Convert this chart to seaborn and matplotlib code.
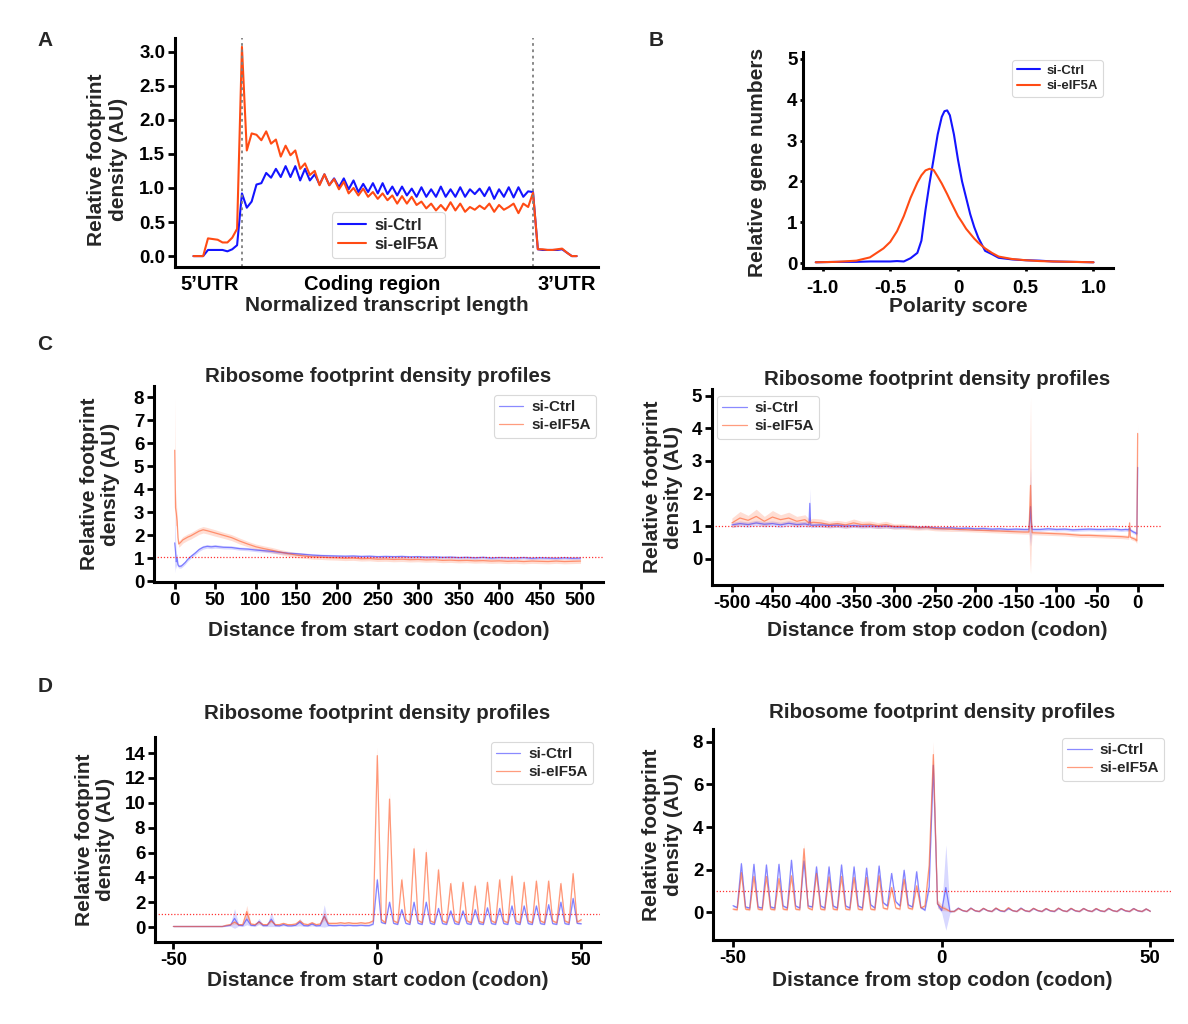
import numpy as np
import pandas as pd
import seaborn as sns
import matplotlib
matplotlib.use("Agg")
import matplotlib.pyplot as plt

sns.set_theme(style="ticks")
plt.rcParams['font.family'] = ['Liberation Sans', 'DejaVu Sans']
plt.rcParams['font.weight'] = 'bold'
plt.rcParams['axes.labelweight'] = 'bold'
plt.rcParams['axes.titleweight'] = 'bold'
plt.rcParams['axes.unicode_minus'] = False

# ---------------- DATA ----------------
series_names = ["si-Ctrl", "si-eIF5A"]

# Panel A: metagene (5'UTR bins, CDS bins, 3'UTR bins)
a_ctrl_utr5 = [0, 0, 0, 0.09, 0.09, 0.09, 0.09, 0.07, 0.10, 0.16]
a_eif_utr5 = [0, 0, 0, 0.26, 0.25, 0.24, 0.20, 0.20, 0.27, 0.40]
a_ctrl_cds = [0.92, 0.71, 0.80, 1.05, 1.07, 1.22, 1.15, 1.28, 1.16, 1.32,
              1.16, 1.32, 1.11, 1.28, 1.11, 1.20, 1.05, 1.20, 1.04, 1.14,
              1.01, 1.14, 0.98, 1.11, 0.94, 1.06, 0.94, 1.07, 0.92, 1.07,
              0.91, 1.02, 0.89, 1.02, 0.89, 0.99, 0.87, 1.01, 0.87, 0.98,
              0.87, 1.02, 0.87, 0.98, 0.87, 1.01, 0.87, 0.98, 0.91, 0.99,
              0.88, 1.01, 0.84, 0.98, 0.87, 1.01, 0.86, 1.01, 0.87, 0.95,
              0.94]
a_eif_cds = [3.07, 1.55, 1.80, 1.78, 1.70, 1.83, 1.65, 1.71, 1.46, 1.62,
             1.48, 1.55, 1.28, 1.36, 1.19, 1.25, 1.04, 1.20, 1.04, 1.13,
             0.98, 1.09, 0.92, 1.00, 0.89, 0.99, 0.87, 0.94, 0.84, 0.92,
             0.82, 0.89, 0.77, 0.88, 0.77, 0.87, 0.75, 0.80, 0.70, 0.77,
             0.67, 0.75, 0.67, 0.79, 0.67, 0.77, 0.65, 0.72, 0.68, 0.74,
             0.69, 0.77, 0.65, 0.75, 0.68, 0.72, 0.77, 0.63, 0.77, 0.72,
             0.93]
a_ctrl_utr3 = [0.10, 0.09, 0.09, 0.09, 0.09, 0.10, 0.05, 0.0, 0.0]
a_eif_utr3 = [0.10, 0.10, 0.09, 0.09, 0.10, 0.11, 0.05, 0.0, 0.0]
a_region_labels = ["5\u2019UTR", "Coding region", "3\u2019UTR"]

# Panel B: polarity score density
b_score = [-1.05, -0.9, -0.75, -0.65, -0.55, -0.5, -0.45, -0.4, -0.35, -0.3,
           -0.27, -0.24, -0.21, -0.18, -0.15, -0.12, -0.10, -0.08, -0.06, -0.03, 0.0,
           0.03, 0.06, 0.09, 0.12, 0.15, 0.2, 0.25, 0.3, 0.4, 0.5,
           0.6, 0.7, 0.85, 1.0]
b_ctrl = [0.02, 0.03, 0.03, 0.04, 0.04, 0.04, 0.05, 0.04, 0.12, 0.25,
          0.55, 1.30, 1.96, 2.55, 3.15, 3.58, 3.72, 3.74, 3.62, 3.15, 2.53,
          2.00, 1.60, 1.20, 0.88, 0.62, 0.30, 0.22, 0.13, 0.09, 0.07,
          0.06, 0.04, 0.03, 0.02]
b_eif = [0.02, 0.03, 0.06, 0.14, 0.36, 0.52, 0.78, 1.15, 1.60, 1.97,
         2.15, 2.27, 2.31, 2.28, 2.12, 1.95, 1.82, 1.69, 1.55, 1.35, 1.15,
         1.00, 0.84, 0.72, 0.60, 0.50, 0.36, 0.25, 0.16, 0.10, 0.07,
         0.05, 0.04, 0.03, 0.02]

# Panel C left: distance from start codon
c_start_pos = [0, 1, 2, 3, 4, 5, 6, 8, 10, 13, 16, 20, 25, 30, 35, 40, 45, 50,
               60, 70, 80, 90, 100, 110, 120, 130, 140, 150, 160, 170, 180, 190,
               200, 210, 220, 230, 240, 250, 260, 270, 280, 290, 300, 310, 320,
               330, 340, 350, 360, 370, 380, 390, 400, 410, 420, 430, 440, 450,
               460, 470, 480, 490, 500]
c_start_ctrl = [1.67, 1.30, 0.85, 1.00, 0.72, 0.66, 0.65, 0.66, 0.72, 0.82, 0.95, 1.08, 1.22, 1.38, 1.48, 1.52, 1.50, 1.52,
                1.48, 1.47, 1.42, 1.40, 1.36, 1.33, 1.30, 1.26, 1.22, 1.20, 1.17, 1.14, 1.12, 1.11,
                1.10, 1.09, 1.10, 1.08, 1.09, 1.07, 1.08, 1.07, 1.08, 1.06, 1.07, 1.05, 1.06,
                1.04, 1.05, 1.03, 1.04, 1.02, 1.04, 1.01, 1.03, 1.02, 1.01, 1.03, 1.00, 1.02,
                1.01, 1.00, 1.02, 1.00, 1.01]
c_start_eif = [5.70, 3.20, 2.95, 2.60, 1.90, 1.62, 1.65, 1.72, 1.80, 1.86, 1.92, 1.98, 2.08, 2.18, 2.24, 2.20, 2.15, 2.10,
               2.00, 1.90, 1.75, 1.62, 1.50, 1.42, 1.35, 1.27, 1.20, 1.14, 1.10, 1.06, 1.05, 1.03,
               1.02, 1.00, 1.01, 0.98, 0.99, 0.96, 0.97, 0.95, 0.96, 0.94, 0.95, 0.93, 0.94,
               0.91, 0.92, 0.90, 0.91, 0.89, 0.90, 0.88, 0.89, 0.87, 0.88, 0.86, 0.88, 0.87,
               0.86, 0.88, 0.86, 0.87, 0.88]
c_start_ctrl_err = [1.30, 0.60, 0.30, 0.20, 0.10, 0.08, 0.08, 0.08, 0.08, 0.08, 0.08, 0.08, 0.08, 0.08, 0.08, 0.08, 0.08, 0.08,
                    0.07, 0.07, 0.07, 0.07, 0.07, 0.07, 0.07, 0.07, 0.06, 0.06, 0.06, 0.06, 0.06, 0.06,
                    0.06, 0.06, 0.06, 0.06, 0.06, 0.06, 0.06, 0.06, 0.06, 0.06, 0.06, 0.06, 0.06,
                    0.06, 0.06, 0.06, 0.06, 0.06, 0.06, 0.06, 0.06, 0.06, 0.06, 0.06, 0.06, 0.06,
                    0.06, 0.06, 0.06, 0.06, 0.06]
c_start_eif_err = [2.30, 0.80, 0.50, 0.30, 0.15, 0.14, 0.14, 0.14, 0.14, 0.14, 0.14, 0.14, 0.14, 0.14, 0.14, 0.14, 0.14, 0.14,
                   0.13, 0.13, 0.13, 0.12, 0.12, 0.12, 0.12, 0.11, 0.11, 0.11, 0.10, 0.10, 0.10, 0.10,
                   0.10, 0.10, 0.10, 0.10, 0.10, 0.10, 0.10, 0.10, 0.10, 0.10, 0.10, 0.10, 0.10,
                   0.10, 0.10, 0.10, 0.10, 0.10, 0.10, 0.10, 0.10, 0.10, 0.10, 0.10, 0.10, 0.10,
                   0.10, 0.10, 0.10, 0.10, 0.10]

# Panel C right: distance from stop codon
c_stop_pos = [-500, -490, -480, -470, -460, -450, -440, -430, -420, -410, -405, -404, -403, -400,
              -390, -380, -370, -360, -350, -340, -330, -320, -310, -300, -290, -280, -270,
              -260, -250, -240, -230, -220, -210, -200, -190, -180, -170, -160, -150, -140,
              -134, -133, -132, -131, -130, -120, -110, -100, -90, -80, -70, -60, -50, -40,
              -30, -20, -15, -11, -10, -9, -5, -3, -2, -1, 0]
c_stop_ctrl = [1.04, 1.08, 1.05, 1.10, 1.06, 1.08, 1.04, 1.09, 1.05, 1.07, 1.04, 1.70, 1.03, 1.03,
               1.04, 1.02, 1.03, 1.00, 1.02, 1.00, 1.01, 0.99, 1.00, 0.98, 0.97, 0.98, 0.96,
               0.97, 0.95, 0.94, 0.95, 0.93, 0.94, 0.92, 0.93, 0.91, 0.92, 0.90, 0.91, 0.90,
               0.90, 1.20, 1.60, 1.10, 0.90, 0.90, 0.92, 0.90, 0.91, 0.89, 0.90, 0.91, 0.90, 0.90,
               0.91, 0.89, 0.90, 0.89, 0.95, 0.88, 0.82, 0.80, 0.78, 0.76, 2.80]
c_stop_eif = [1.10, 1.25, 1.18, 1.30, 1.15, 1.28, 1.20, 1.25, 1.15, 1.20, 1.10, 1.15, 1.10, 1.12,
              1.10, 1.05, 1.08, 1.04, 1.10, 1.05, 1.06, 1.02, 1.05, 0.99, 1.00, 0.97, 0.95,
              0.96, 0.93, 0.92, 0.91, 0.90, 0.89, 0.88, 0.87, 0.86, 0.85, 0.84, 0.83, 0.82,
              0.82, 1.50, 2.25, 1.20, 0.80, 0.79, 0.78, 0.77, 0.76, 0.74, 0.72, 0.72, 0.71, 0.70,
              0.69, 0.68, 0.67, 0.66, 1.10, 0.66, 0.62, 0.60, 0.57, 0.55, 3.84]
c_stop_ctrl_err = [0.08, 0.08, 0.08, 0.08, 0.08, 0.08, 0.08, 0.08, 0.08, 0.08, 0.08, 0.45, 0.08, 0.07,
                   0.07, 0.07, 0.07, 0.06, 0.06, 0.06, 0.06, 0.06, 0.06, 0.06, 0.05, 0.05, 0.05,
                   0.05, 0.05, 0.05, 0.05, 0.05, 0.05, 0.05, 0.05, 0.05, 0.05, 0.05, 0.05, 0.05,
                   0.05, 0.60, 1.20, 0.40, 0.05, 0.05, 0.05, 0.05, 0.05, 0.05, 0.05, 0.05, 0.05, 0.05,
                   0.05, 0.05, 0.05, 0.05, 0.08, 0.05, 0.05, 0.05, 0.06, 0.06, 0.60]
c_stop_eif_err = [0.15, 0.20, 0.15, 0.22, 0.15, 0.20, 0.15, 0.18, 0.15, 0.15, 0.12, 0.15, 0.12, 0.12,
                  0.12, 0.10, 0.10, 0.10, 0.12, 0.10, 0.10, 0.09, 0.10, 0.08, 0.08, 0.08, 0.07,
                  0.07, 0.07, 0.07, 0.07, 0.06, 0.06, 0.06, 0.06, 0.06, 0.06, 0.06, 0.06, 0.06,
                  0.06, 1.50, 2.70, 0.80, 0.06, 0.06, 0.06, 0.06, 0.06, 0.06, 0.06, 0.06, 0.06, 0.06,
                  0.06, 0.06, 0.06, 0.06, 0.15, 0.06, 0.06, 0.06, 0.07, 0.07, 0.30]

# Panel D left: codon-resolution around start codon (-50..50)
d_start_pos = list(range(-50, 51))
d_start_ctrl = [0.05, 0.05, 0.05, 0.05, 0.05, 0.05, 0.05, 0.05, 0.05, 0.05,
                0.05, 0.05, 0.05, 0.10, 0.15, 0.70, 0.15, 0.12, 0.64, 0.15,
                0.12, 0.45, 0.12, 0.12, 0.64, 0.12, 0.10, 0.20, 0.10, 0.10,
                0.15, 0.40, 0.12, 0.10, 0.25, 0.10, 0.12, 0.90, 0.15, 0.12,
                0.12, 0.15, 0.12, 0.15, 0.12, 0.12, 0.15, 0.12, 0.12, 0.25,
                3.80, 0.37, 0.28, 2.00, 0.30, 0.22, 1.40, 0.30, 0.22, 2.00,
                0.30, 0.22, 2.00, 0.30, 0.22, 1.50, 0.28, 0.22, 1.30, 0.28,
                0.22, 1.30, 0.28, 0.22, 1.40, 0.28, 0.22, 1.55, 0.28, 0.22,
                1.50, 0.28, 0.22, 1.70, 0.28, 0.22, 1.70, 0.28, 0.22, 1.70,
                0.28, 0.22, 1.80, 0.28, 0.22, 2.00, 0.28, 0.22, 2.30, 0.30,
                0.27]
d_start_eif = [0.05, 0.05, 0.05, 0.05, 0.05, 0.05, 0.05, 0.05, 0.05, 0.05,
               0.05, 0.05, 0.05, 0.15, 0.20, 0.40, 0.20, 0.20, 1.25, 0.25,
               0.20, 0.40, 0.20, 0.20, 0.50, 0.20, 0.20, 0.30, 0.20, 0.20,
               0.25, 0.50, 0.25, 0.20, 0.35, 0.20, 0.25, 0.85, 0.30, 0.30,
               0.30, 0.35, 0.30, 0.35, 0.30, 0.30, 0.35, 0.30, 0.35, 0.50,
               13.8, 0.60, 0.35, 10.3, 0.50, 0.35, 3.80, 0.60, 0.35, 6.30,
               0.55, 0.35, 6.00, 0.50, 0.35, 4.60, 0.50, 0.35, 3.50, 0.50,
               0.35, 3.60, 0.50, 0.35, 3.30, 0.45, 0.35, 3.60, 0.50, 0.35,
               3.80, 0.50, 0.35, 4.10, 0.50, 0.35, 3.60, 0.50, 0.35, 3.70,
               0.50, 0.35, 3.70, 0.50, 0.35, 3.50, 0.50, 0.35, 4.30, 0.40,
               0.60]
d_start_ctrl_err = [0.03, 0.03, 0.03, 0.03, 0.03, 0.03, 0.03, 0.03, 0.03, 0.03,
                    0.03, 0.03, 0.03, 0.05, 0.08, 0.80, 0.08, 0.08, 0.45, 0.08,
                    0.08, 0.25, 0.08, 0.08, 0.60, 0.08, 0.06, 0.10, 0.06, 0.06,
                    0.08, 0.30, 0.06, 0.06, 0.15, 0.06, 0.08, 0.90, 0.08, 0.06,
                    0.05, 0.05, 0.05, 0.05, 0.05, 0.05, 0.05, 0.05, 0.05, 0.06,
                    0.25, 0.05, 0.05, 0.20, 0.05, 0.05, 0.15, 0.05, 0.05, 0.15,
                    0.05, 0.05, 0.15, 0.05, 0.05, 0.15, 0.05, 0.05, 0.15, 0.05,
                    0.05, 0.15, 0.05, 0.05, 0.15, 0.05, 0.05, 0.15, 0.05, 0.05,
                    0.15, 0.05, 0.05, 0.15, 0.05, 0.05, 0.15, 0.05, 0.05, 0.15,
                    0.05, 0.05, 0.15, 0.05, 0.05, 0.15, 0.05, 0.05, 0.20, 0.05,
                    0.05]
d_start_eif_err = [0.03, 0.03, 0.03, 0.03, 0.03, 0.03, 0.03, 0.03, 0.03, 0.03,
                   0.03, 0.03, 0.03, 0.06, 0.08, 0.15, 0.08, 0.08, 0.50, 0.08,
                   0.08, 0.12, 0.08, 0.08, 0.12, 0.08, 0.08, 0.08, 0.08, 0.08,
                   0.08, 0.12, 0.08, 0.08, 0.10, 0.08, 0.08, 0.30, 0.10, 0.10,
                   0.10, 0.10, 0.10, 0.10, 0.10, 0.10, 0.10, 0.10, 0.10, 0.12,
                   0.70, 0.10, 0.08, 0.60, 0.10, 0.08, 0.30, 0.10, 0.08, 0.40,
                   0.10, 0.08, 0.40, 0.10, 0.08, 0.30, 0.10, 0.08, 0.25, 0.10,
                   0.08, 0.25, 0.10, 0.08, 0.25, 0.10, 0.08, 0.25, 0.10, 0.08,
                   0.25, 0.10, 0.08, 0.30, 0.10, 0.08, 0.25, 0.10, 0.08, 0.25,
                   0.10, 0.08, 0.25, 0.10, 0.08, 0.25, 0.10, 0.08, 0.30, 0.10,
                   0.10]

# Panel D right: codon-resolution around stop codon (-50..50)
d_stop_pos = list(range(-50, 51))
d_stop_ctrl = [0.31, 0.22, 2.28, 0.25, 0.20, 2.25, 0.25, 0.20, 2.22, 0.25,
               0.20, 2.25, 0.30, 0.20, 2.44, 0.30, 0.20, 2.41, 0.30, 0.25,
               2.13, 0.30, 0.20, 2.13, 0.30, 0.20, 2.22, 0.30, 0.20, 2.13,
               0.30, 0.20, 2.07, 0.35, 0.20, 2.17, 0.45, 0.30, 1.82, 0.50,
               0.30, 1.97, 0.35, 0.25, 1.90, 0.23, 0.10, 1.20, 6.90, 0.40,
               0.08, 1.16, 0.03, 0.05, 0.20, 0.08, 0.04, 0.20, 0.07, 0.04,
               0.18, 0.08, 0.04, 0.19, 0.07, 0.04, 0.18, 0.08, 0.04, 0.20,
               0.07, 0.04, 0.18, 0.08, 0.04, 0.17, 0.07, 0.04, 0.19, 0.08,
               0.04, 0.18, 0.07, 0.04, 0.18, 0.08, 0.04, 0.17, 0.07, 0.04,
               0.18, 0.08, 0.04, 0.17, 0.07, 0.04, 0.18, 0.07, 0.04, 0.16,
               0.05]
d_stop_eif = [0.15, 0.12, 1.86, 0.15, 0.12, 1.68, 0.15, 0.12, 1.68, 0.15,
              0.12, 1.58, 0.15, 0.12, 1.71, 0.15, 0.12, 2.98, 0.20, 0.12,
              1.82, 0.15, 0.12, 1.66, 0.15, 0.12, 1.68, 0.15, 0.12, 1.63,
              0.15, 0.12, 1.63, 0.15, 0.12, 1.71, 0.20, 0.15, 1.16, 0.20,
              0.15, 1.55, 0.20, 0.15, 1.24, 0.20, 0.30, 2.20, 7.40, 0.39,
              0.23, 0.15, 0.05, 0.04, 0.18, 0.09, 0.04, 0.19, 0.08, 0.04,
              0.19, 0.08, 0.04, 0.20, 0.09, 0.05, 0.22, 0.08, 0.04, 0.18,
              0.08, 0.04, 0.19, 0.09, 0.04, 0.18, 0.08, 0.05, 0.20, 0.08,
              0.04, 0.19, 0.08, 0.04, 0.18, 0.08, 0.04, 0.18, 0.08, 0.04,
              0.19, 0.08, 0.04, 0.18, 0.08, 0.04, 0.17, 0.08, 0.04, 0.16,
              0.05]
d_stop_ctrl_err = [0.05, 0.05, 0.12, 0.05, 0.05, 0.12, 0.05, 0.05, 0.12, 0.05,
                   0.05, 0.12, 0.05, 0.05, 0.12, 0.05, 0.05, 0.12, 0.05, 0.05,
                   0.12, 0.05, 0.05, 0.12, 0.05, 0.05, 0.12, 0.05, 0.05, 0.12,
                   0.05, 0.05, 0.12, 0.05, 0.05, 0.12, 0.05, 0.05, 0.12, 0.05,
                   0.05, 0.12, 0.05, 0.05, 0.12, 0.05, 0.05, 0.20, 0.40, 0.15,
                   0.10, 2.00, 0.05, 0.03, 0.04, 0.03, 0.03, 0.04, 0.03, 0.03,
                   0.04, 0.03, 0.03, 0.04, 0.03, 0.03, 0.04, 0.03, 0.03, 0.04,
                   0.03, 0.03, 0.04, 0.03, 0.03, 0.04, 0.03, 0.03, 0.04, 0.03,
                   0.03, 0.04, 0.03, 0.03, 0.04, 0.03, 0.03, 0.04, 0.03, 0.03,
                   0.04, 0.03, 0.03, 0.04, 0.03, 0.03, 0.04, 0.03, 0.03, 0.04,
                   0.03]
d_stop_eif_err = [0.05, 0.05, 0.12, 0.05, 0.05, 0.12, 0.05, 0.05, 0.12, 0.05,
                  0.05, 0.12, 0.05, 0.05, 0.12, 0.05, 0.05, 0.25, 0.05, 0.05,
                  0.12, 0.05, 0.05, 0.12, 0.05, 0.05, 0.12, 0.05, 0.05, 0.12,
                  0.05, 0.05, 0.12, 0.05, 0.05, 0.12, 0.05, 0.05, 0.12, 0.05,
                  0.05, 0.12, 0.05, 0.05, 0.12, 0.05, 0.08, 0.30, 0.60, 0.20,
                  0.15, 0.08, 0.04, 0.03, 0.04, 0.03, 0.03, 0.04, 0.03, 0.03,
                  0.04, 0.03, 0.03, 0.05, 0.03, 0.03, 0.05, 0.03, 0.03, 0.04,
                  0.03, 0.03, 0.04, 0.03, 0.03, 0.04, 0.03, 0.03, 0.04, 0.03,
                  0.03, 0.04, 0.03, 0.03, 0.04, 0.03, 0.03, 0.04, 0.03, 0.03,
                  0.04, 0.03, 0.03, 0.04, 0.03, 0.03, 0.04, 0.03, 0.03, 0.04,
                  0.03]

# reference (dotted) levels per panel
ref_level_c_start = 1.07
ref_level_c_stop = 1.0
ref_level_d_start = 1.05
ref_level_d_stop = 1.0

# ---------------- STYLE ----------------
BLUE = "#1414ff"
ORANGE = "#ff4b14"
BLUE_L = "#3c3cff"
ORANGE_L = "#ff5a28"
TICK_FS = 13.5
LABEL_FS = 15
TITLE_FS = 14.8

fig = plt.figure(figsize=(11.88, 10.24), dpi=100)


def add_axes(l, r, t, b):
    return fig.add_axes([l / 1188, 1 - b / 1024, (r - l) / 1188, (b - t) / 1024])


def style_axes(ax, ticklen=5):
    sns.despine(ax=ax)
    for s in ["left", "bottom"]:
        ax.spines[s].set_linewidth(2.2)
        ax.spines[s].set_color("black")
    ax.tick_params(axis="both", which="major", labelsize=TICK_FS, width=2, length=ticklen,
                   color="black", labelcolor="black", direction="out", pad=2)
    for lab in ax.get_xticklabels() + ax.get_yticklabels():
        lab.set_fontweight("bold")
    ax.grid(False)
    ax.set_facecolor("white")


def profile(ax, pos, ctrl, eif, ctrl_err, eif_err, ref_level):
    pos = np.asarray(pos, float)
    ctrl = np.asarray(ctrl, float)
    eif = np.asarray(eif, float)
    ce = np.asarray(ctrl_err, float)
    ee = np.asarray(eif_err, float)
    df = pd.DataFrame({"pos": np.concatenate([pos, pos]),
                       "value": np.concatenate([ctrl, eif]),
                       "group": [series_names[0]] * len(pos) + [series_names[1]] * len(pos)})
    ax.fill_between(pos, ctrl - ce, ctrl + ce, color=BLUE_L, alpha=0.2, lw=0)
    ax.fill_between(pos, eif - ee, eif + ee, color=ORANGE_L, alpha=0.2, lw=0)
    sns.lineplot(data=df, x="pos", y="value", hue="group", palette=[BLUE_L, ORANGE_L],
                 ax=ax, lw=0.9, alpha=0.6, errorbar=None, sort=False)
    ax.axhline(ref_level, color="red", ls=(0, (1, 1.5)), lw=0.9, alpha=0.8)


def two_line_ylabel(ax, x):
    ax.set_ylabel("Relative footprint\ndensity (AU)", fontsize=LABEL_FS, fontweight="bold",
                  linespacing=1.15)
    ax.yaxis.set_label_coords(x, 0.5)


def leg(ax, loc, anchor, fs=11, hl=1.6):
    lg = ax.legend(loc=loc, bbox_to_anchor=anchor, fontsize=fs, frameon=True,
                   handlelength=hl, borderpad=0.35, labelspacing=0.25, handletextpad=0.5,
                   borderaxespad=0)
    lg.get_frame().set_edgecolor("#d0d0d0")
    lg.get_frame().set_linewidth(0.8)
    for t in lg.get_texts():
        t.set_fontweight("bold")
    return lg


# ---------------- PANEL A ----------------
axA = add_axes(175, 598, 38, 267)
a_ctrl = a_ctrl_utr5 + a_ctrl_cds + a_ctrl_utr3
a_eif = a_eif_utr5 + a_eif_cds + a_eif_utr3
a_bin = np.arange(len(a_ctrl))
dfA = pd.DataFrame({"bin": np.concatenate([a_bin, a_bin]),
                    "value": a_ctrl + a_eif,
                    "group": [series_names[0]] * len(a_bin) + [series_names[1]] * len(a_bin)})
sns.lineplot(data=dfA, x="bin", y="value", hue="group", palette=[BLUE, ORANGE], ax=axA,
             lw=1.5, errorbar=None)
cds_start = len(a_ctrl_utr5)
cds_end = len(a_ctrl_utr5) + len(a_ctrl_cds) - 1
for xv in (cds_start, cds_end):
    axA.axvline(xv, color="#7f7f7f", ls=(0, (1.5, 2)), lw=1.3)
axA.set_xlim(-3.8, 83.4)
axA.set_ylim(-0.16, 3.2)
axA.set_yticks([0, 0.5, 1.0, 1.5, 2.0, 2.5, 3.0])
axA.set_yticklabels(["0.0", "0.5", "1.0", "1.5", "2.0", "2.5", "3.0"])
axA.set_xticks([3.4, 36.9, 77.0])
axA.set_xticklabels(a_region_labels)
style_axes(axA)
axA.tick_params(axis="x", length=0, labelsize=14.5, pad=5.5)
axA.set_xlabel("Normalized transcript length", fontsize=LABEL_FS, fontweight="bold", labelpad=2)
axA.set_ylabel("Relative footprint\ndensity (AU)", fontsize=LABEL_FS, fontweight="bold", linespacing=1.15)
axA.yaxis.set_label_coords(-0.112, 0.47)
leg(axA, "lower left", (0.371, 0.039), fs=12, hl=1.7)

# ---------------- PANEL B ----------------
axB = add_axes(803, 1113, 52, 268)
dfB = pd.DataFrame({"score": b_score + b_score, "value": b_ctrl + b_eif,
                    "group": [series_names[0]] * len(b_score) + [series_names[1]] * len(b_score)})
sns.lineplot(data=dfB, x="score", y="value", hue="group", palette=[BLUE, ORANGE], ax=axB,
             lw=1.5, errorbar=None)
axB.set_xlim(-1.144, 1.144)
axB.set_ylim(-0.12, 5.17)
axB.set_xticks([-1.0, -0.5, 0, 0.5, 1.0])
axB.set_xticklabels(["-1.0", "-0.5", "0", "0.5", "1.0"])
axB.set_yticks([0, 1, 2, 3, 4, 5])
style_axes(axB, ticklen=2)
axB.tick_params(axis="x", pad=6.5)
axB.set_xlabel("Polarity score", fontsize=LABEL_FS, fontweight="bold", labelpad=0)
axB.set_ylabel("Relative gene numbers", fontsize=LABEL_FS, fontweight="bold")
axB.yaxis.set_label_coords(-0.116, 0.49)
leg(axB, "upper right", (0.968, 0.963), fs=9.5, hl=1.8)

# ---------------- PANEL C left ----------------
axC1 = add_axes(154, 603, 386, 582)
profile(axC1, c_start_pos, c_start_ctrl, c_start_eif, c_start_ctrl_err, c_start_eif_err,
        ref_level_c_start)
axC1.set_xlim(-25.5, 527.7)
axC1.set_ylim(-0.03, 8.49)
axC1.set_xticks(list(range(0, 501, 50)))
axC1.set_yticks(list(range(0, 9)))
style_axes(axC1)
axC1.set_title("Ribosome footprint density profiles", fontsize=TITLE_FS, fontweight="bold", pad=0)
axC1.set_xlabel("Distance from start codon (codon)", fontsize=LABEL_FS, fontweight="bold", labelpad=9)
two_line_ylabel(axC1, -0.076)
leg(axC1, "upper right", (0.984, 0.954))

# ---------------- PANEL C right ----------------
axC2 = add_axes(712, 1162, 389, 585)
profile(axC2, c_stop_pos, c_stop_ctrl, c_stop_eif, c_stop_ctrl_err, c_stop_eif_err,
        ref_level_c_stop)
axC2.set_xlim(-524.5, 30)
axC2.set_ylim(-0.8, 5.2)
axC2.set_xticks(list(range(-500, 1, 50)))
axC2.set_yticks(list(range(0, 6)))
style_axes(axC2)
axC2.set_title("Ribosome footprint density profiles", fontsize=TITLE_FS, fontweight="bold", pad=3)
axC2.set_xlabel("Distance from stop codon (codon)", fontsize=LABEL_FS, fontweight="bold", labelpad=7)
two_line_ylabel(axC2, -0.065)
leg(axC2, "upper left", (0.011, 0.964))

# ---------------- PANEL D left ----------------
axD1 = add_axes(155, 600, 737, 942)
profile(axD1, d_start_pos, d_start_ctrl, d_start_eif, d_start_ctrl_err, d_start_eif_err,
        ref_level_d_start)
axD1.set_xlim(-54.5, 54.6)
axD1.set_ylim(-1.2, 15.3)
axD1.set_xticks([-50, 0, 50])
axD1.set_yticks(list(range(0, 15, 2)))
style_axes(axD1)
axD1.set_title("Ribosome footprint density profiles", fontsize=TITLE_FS, fontweight="bold", pad=13)
axD1.set_xlabel("Distance from start codon (codon)", fontsize=LABEL_FS, fontweight="bold", labelpad=1.5)
two_line_ylabel(axD1, -0.09)
leg(axD1, "upper right", (0.984, 0.976))

# ---------------- PANEL D right ----------------
axD2 = add_axes(713, 1172, 729, 940)
profile(axD2, d_stop_pos, d_stop_ctrl, d_stop_eif, d_stop_ctrl_err, d_stop_eif_err,
        ref_level_d_stop)
axD2.set_xlim(-54.8, 55.2)
axD2.set_ylim(-1.3, 8.6)
axD2.set_xticks([-50, 0, 50])
axD2.set_yticks([0, 2, 4, 6, 8])
style_axes(axD2)
axD2.set_title("Ribosome footprint density profiles", fontsize=TITLE_FS, fontweight="bold", pad=8)
axD2.set_xlabel("Distance from stop codon (codon)", fontsize=LABEL_FS, fontweight="bold", labelpad=3)
two_line_ylabel(axD2, -0.066)
leg(axD2, "upper right", (0.983, 0.957))

# ---------------- Panel letters ----------------
for letter, (px, py) in {"A": (45, 40), "B": (656, 40), "C": (45, 345), "D": (45, 687)}.items():
    fig.text(px / 1188, 1 - py / 1024, letter, fontsize=15, fontweight="bold",
             ha="center", va="center")

fig.savefig("out.png", dpi=100, facecolor="white")
